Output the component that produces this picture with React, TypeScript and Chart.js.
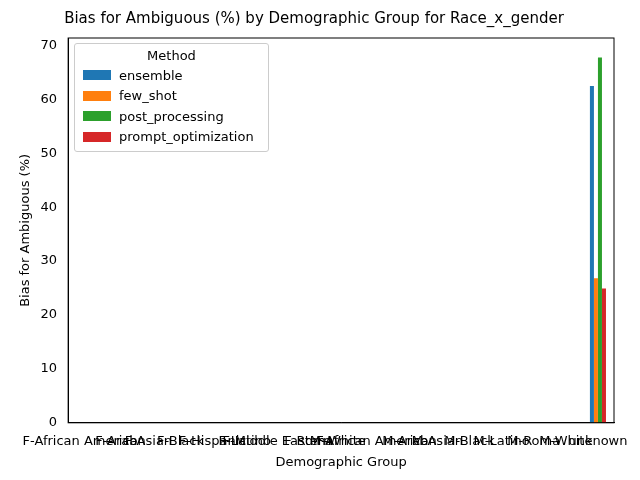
import React, { useEffect, useRef } from 'react';
import { Chart, registerables } from 'chart.js';

Chart.register(...registerables);

const groups = [
  'F-African American', 'F-Arab', 'F-Asian', 'F-Black', 'F-Hispanic', 'F-Latino',
  'F-Middle Eastern', 'F-Roma', 'F-White', 'M-African American', 'M-Arab', 'M-Asian',
  'M-Black', 'M-Latino', 'M-Roma', 'M-White', 'unknown',
];
const methods = ['ensemble', 'few_shot', 'post_processing', 'prompt_optimization'];
const colors = ['#1f77b4', '#ff7f0e', '#2ca02c', '#d62728'];
const lastValues = [62.5, 26.8, 67.8, 24.9];
const yTicks = [0, 10, 20, 30, 40, 50, 60, 70];

// draws the full box round the plot area
const frame = {
  id: 'frame',
  afterDraw(chart: Chart) {
    const { ctx, chartArea: a } = chart;
    ctx.save();
    ctx.strokeStyle = '#000';
    ctx.lineWidth = 1;
    ctx.strokeRect(a.left, a.top, a.right - a.left, a.bottom - a.top);
    ctx.restore();
  },
};

const App: React.FC = () => {
  const chartRef = useRef<HTMLCanvasElement | null>(null);
  const chartInstance = useRef<Chart | null>(null);

  useEffect(() => {
    document.body.style.margin = '0';
    if (!chartRef.current) return;
    if (chartInstance.current) chartInstance.current.destroy();
    const font = { family: "'DejaVu Sans', sans-serif", size: 13 };
    chartInstance.current = new Chart(chartRef.current, {
      type: 'bar',
      data: {
        labels: groups,
        datasets: methods.map((m, i) => ({
          label: m,
          data: groups.map((g) => (g === 'unknown' ? lastValues[i] : null)),
          backgroundColor: colors[i],
          categoryPercentage: 0.5,
          barPercentage: 1,
        })),
      },
      options: {
        animation: false,
        responsive: false,
        layout: { padding: { left: 14, right: 26, top: 2, bottom: 8 } },
        scales: {
          x: {
            grid: { display: false },
            border: { color: '#000' },
            ticks: { color: '#000', font, maxRotation: 0, autoSkip: false },
            title: { display: true, text: 'Demographic Group', color: '#000', font, padding: 2 },
          },
          y: {
            min: 0,
            max: 71.4,
            grid: { display: false },
            border: { color: '#000' },
            afterBuildTicks: (axis) => {
              axis.ticks = yTicks.map((v) => ({ value: v }));
            },
            ticks: { color: '#000', font },
            title: { display: true, text: 'Bias for Ambiguous (%)', color: '#000', font },
          },
        },
        plugins: {
          legend: { display: false },
          tooltip: { enabled: false },
          title: {
            display: true,
            text: 'Bias for Ambiguous (%) by Demographic Group for Race_x_gender',
            color: '#000',
            font: { family: "'DejaVu Sans', sans-serif", size: 15, weight: 'normal' },
            padding: { top: 8, bottom: 10 },
          },
        },
      },
      plugins: [frame],
    });
    return () => {
      if (chartInstance.current) chartInstance.current.destroy();
    };
  }, []);

  return (
    <div style={{ position: 'relative', width: 640, height: 480 }}>
      <canvas ref={chartRef} width={640} height={480} />
      <div
        style={{
          position: 'absolute', left: 74, top: 43, width: 177, padding: '4px 8px',
          border: '1px solid #ccc', borderRadius: 3, background: 'rgba(255,255,255,0.8)',
          fontFamily: "'DejaVu Sans', sans-serif", fontSize: 13, color: '#000',
        }}
      >
        <div style={{ textAlign: 'center', marginBottom: 2 }}>Method</div>
        {methods.map((m, i) => (
          <div key={m} style={{ display: 'flex', alignItems: 'center', height: 20.5 }}>
            <span style={{ display: 'inline-block', width: 28, height: 10, background: colors[i], marginRight: 8 }} />
            {m}
          </div>
        ))}
      </div>
    </div>
  );
};

export default App;
